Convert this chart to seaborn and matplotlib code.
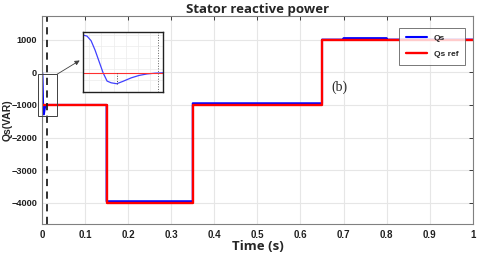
import pandas as pd
import seaborn as sns
import matplotlib.pyplot as plt
from matplotlib.patches import Rectangle

# reference step (Qs ref)
t_ref = [0, 0.15, 0.15, 0.35, 0.35, 0.65, 0.65, 1.0]
q_ref = [-1000, -1000, -4000, -4000, -1000, -1000, 1000, 1000]

# measured Qs, start-up transient then the steps
t_tr = [0, 0.0005, 0.001, 0.0015, 0.002, 0.0025, 0.003, 0.0035, 0.0042,
        0.005, 0.006, 0.007, 0.008, 0.009, 0.01]
q_tr = [0, -30, -150, -400, -700, -1000, -1220, -1265, -1290,
        -1225, -1135, -1070, -1030, -1010, -1000]
t_steps = [0.15, 0.15, 0.35, 0.35, 0.65, 0.65, 0.70, 0.70, 0.80, 0.80, 1.0]
q_steps = [-1000, -3950, -3950, -950, -950, 1000, 1000, 1045, 1045, 1000, 1000]

t_qs = t_tr + t_steps
q_qs = q_tr + q_steps

qs = pd.DataFrame({'t': t_qs, 'q': q_qs})
ref = pd.DataFrame({'t': t_ref, 'q': q_ref})
tr = pd.DataFrame({'t': t_tr, 'q': q_tr})

sns.set_style('whitegrid', {'grid.color': '#e6e6e6', 'axes.edgecolor': '#808080'})
plt.rcParams['font.family'] = ['Liberation Sans', 'DejaVu Sans']
plt.rcParams['font.weight'] = 'bold'

fig = plt.figure(figsize=(4.8, 2.6), dpi=100)
ax = fig.add_axes([0.0875, 0.138, 0.8975, 0.8])

sns.lineplot(data=qs, x='t', y='q', ax=ax, color='#0000ff', lw=1.5,
             estimator=None, sort=False, label='Qs')
sns.lineplot(data=ref, x='t', y='q', ax=ax, color='#ff0000', lw=1.7,
             estimator=None, sort=False, label='Qs ref')
ax.axvline(0.0116, color='#202020', ls=(0, (4, 3)), lw=1.3)

ax.set_xlim(0, 1)
ax.set_ylim(-4650, 1720)
ax.set_xticks([i / 10 for i in range(11)])
ax.set_xticklabels(['0', '0.1', '0.2', '0.3', '0.4', '0.5', '0.6', '0.7', '0.8', '0.9', '1'])
ax.set_yticks([-4000, -3000, -2000, -1000, 0, 1000])
ax.tick_params(direction='in', top=True, right=True, length=3, width=0.6,
               labelsize=7, pad=4, colors='#202020')
ax.tick_params(axis='y', labelsize=6.6, pad=3.5)
for lab in ax.get_xticklabels() + ax.get_yticklabels():
    lab.set_fontweight('bold')
for s in ax.spines.values():
    s.set_linewidth(0.8)

ax.set_title('Stator reactive power', fontsize=9.5, fontweight='bold',
             family=['Open Sans', 'DejaVu Sans'], pad=2)
ax.set_xlabel('Time (s)', fontsize=9.5, fontweight='bold',
              family=['Open Sans', 'DejaVu Sans'], labelpad=0)
ax.set_ylabel('Qs(VAR)', fontsize=7.5, fontweight='bold', va='center')
ax.yaxis.set_label_coords(-0.079, 0.5)

leg = ax.legend(loc='upper right', bbox_to_anchor=(0.992, 0.965),
                frameon=True, fancybox=False, handlelength=2.6, borderpad=0.8,
                labelspacing=1.0, prop={'weight': 'bold', 'size': 6})
leg.get_frame().set_edgecolor('#555555')
leg.get_frame().set_linewidth(0.7)

ax.text(0.69, -460, '(b)', fontsize=10, family='Liberation Serif',
        fontweight='normal', ha='center', va='center')

# zoom box and arrow
ax.add_patch(Rectangle((-0.009, -1350), 0.044, 1290, fill=False,
                       ec='#404040', lw=0.7, clip_on=False, zorder=5))
ax.annotate('', xy=(0.171, 0.646 + 0.231 * 0.55), xycoords='figure fraction',
            xytext=(0.035, -60), textcoords='data',
            arrowprops=dict(arrowstyle='-|>', color='#404040', lw=0.6,
                            mutation_scale=7, shrinkA=0), zorder=6)

# inset
axin = fig.add_axes([0.173, 0.646, 0.167, 0.231])
axin.set_facecolor('white')
sns.lineplot(data=tr, x='t', y='q', ax=axin, color='#4040ff', lw=0.9,
             estimator=None, sort=False)
axin.axhline(-1000, color='#ff3030', lw=0.8)
axin.vlines(0.0042, -1290, -1000, color='#404040', ls=':', lw=0.7)
axin.axvline(0.0093, color='#606060', ls=':', lw=0.7)
axin.set_xlim(0, 0.01)
axin.set_ylim(-1510, 80)
axin.set_xticks([0.0008, 0.0023, 0.0038, 0.0053, 0.0068, 0.0083])
axin.set_yticks([-1200, -900, -600, -300, 0])
axin.grid(True, color='#ececec', lw=0.5)
axin.set_xticklabels([])
axin.set_yticklabels([])
axin.tick_params(length=0)
axin.set_xlabel('')
axin.set_ylabel('')
for s in axin.spines.values():
    s.set_edgecolor('#202020')
    s.set_linewidth(1.0)

fig.savefig('out.png', dpi=100)
